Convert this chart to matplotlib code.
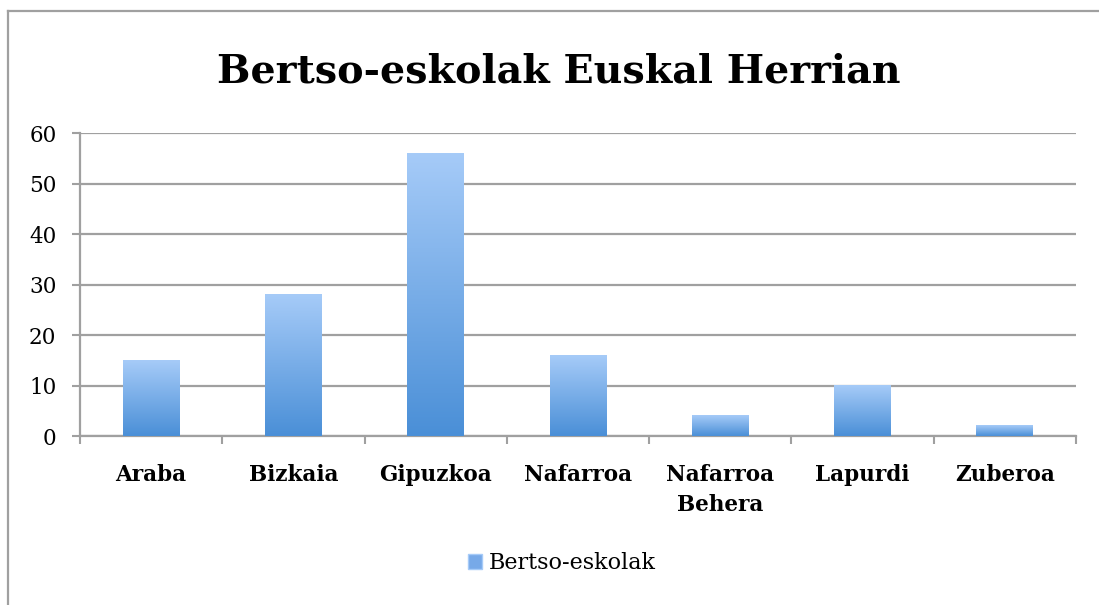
import numpy as np
import matplotlib.pyplot as plt
from matplotlib.lines import Line2D
from matplotlib.patches import Patch
from matplotlib.colors import LinearSegmentedColormap

# data
categories = ["Araba", "Bizkaia", "Gipuzkoa", "Nafarroa", "Nafarroa\nBehera", "Lapurdi", "Zuberoa"]
values = [15, 28, 56, 16, 4, 10, 2]
yticks = [0, 10, 20, 30, 40, 50, 60]
series_name = "Bertso-eskolak"

plt.rcParams["font.family"] = ["DejaVu Serif"]

fig = plt.figure(figsize=(10.99, 6.05), dpi=100)
ax = fig.add_axes([0.0728, 0.279, 0.9062, 0.501])

grey = "#a0a0a0"
x = np.arange(len(categories))

# bars are invisible, the gradient is painted inside each one
bars = ax.bar(x, values, width=0.4, color="none", zorder=3)
cmap = LinearSegmentedColormap.from_list("blu", ["#4a8fd7", "#a6cbf8"])
grad = np.linspace(0, 1, 256).reshape(-1, 1)
for b in bars:
    x0, y0 = b.get_x(), b.get_y()
    ax.imshow(grad, cmap=cmap, origin="lower", aspect="auto",
              extent=(x0, x0 + b.get_width(), y0, y0 + b.get_height()), zorder=3)

ax.set_xlim(-0.5, len(categories) - 0.5)
ax.set_ylim(0, 60)
ax.set_yticks(yticks)
ax.set_xticks(x)
ax.set_xticklabels(categories, fontsize=15.5, fontweight="bold", linespacing=1.45)
ax.tick_params(axis="y", labelsize=15.5, length=6, width=1.5, color=grey, pad=11)
ax.tick_params(axis="x", length=0, pad=20)
# small ticks between categories
ax.set_xticks(np.arange(-0.5, len(categories), 1), minor=True)
ax.tick_params(axis="x", which="minor", length=6, width=1.5, color=grey)

ax.yaxis.grid(True, color=grey, linewidth=1.6, zorder=0)
ax.set_axisbelow(True)
for s in ["top", "right"]:
    ax.spines[s].set_visible(False)
for s in ["left", "bottom"]:
    ax.spines[s].set_color(grey)
    ax.spines[s].set_linewidth(1.6)

fig.suptitle("Bertso-eskolak Euskal Herrian", fontsize=28.5, fontweight="bold",
             x=0.508, y=0.913)

handle = Patch(facecolor="#77a9e8", edgecolor="#a6cbf8")
fig.legend([handle], [series_name], loc="center", bbox_to_anchor=(0.511, 0.069),
           frameon=False, fontsize=16, handlelength=0.65, handleheight=0.65, handletextpad=0.3)

# outer chart frame, only left and top are visible in the picture
fig.add_artist(Line2D([0.0075, 0.0075], [-0.02, 0.982], color=grey, linewidth=1.6))
fig.add_artist(Line2D([0.0075, 1.02], [0.982, 0.982], color=grey, linewidth=1.6))

fig.savefig("out.png", dpi=100)
